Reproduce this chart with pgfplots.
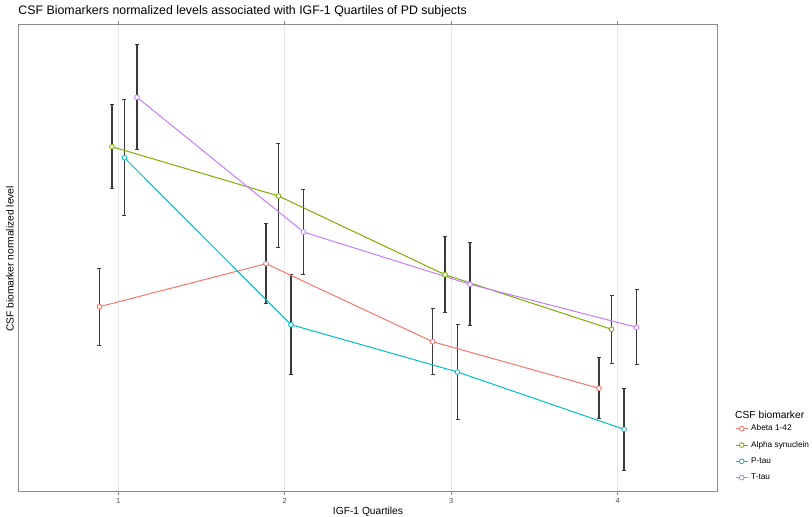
\documentclass[border=0pt]{standalone}
\usepackage{pgfplots}
\usepackage{pgfplotstable}
\pgfplotsset{compat=1.18}
\usepackage{fontspec}
\setmainfont{Liberation Sans}
\definecolor{cA}{HTML}{F8766D}
\definecolor{cB}{HTML}{7CAE00}
\definecolor{cC}{HTML}{00BFC4}
\definecolor{cD}{HTML}{C77CFF}
\definecolor{ebar}{HTML}{3A3A3A}

\pgfplotstableread{
x y e
0.8875 185.0 38.65
1.8875 228.0 40.0
2.8875 150.0 32.8
3.8875 103.4 30.65
}\abeta
\pgfplotstableread{
x y e
0.9625 345.0 41.8
1.9625 295.7 52.0
2.9625 217.0 37.8
3.9625 162.4 33.8
}\alpha
\pgfplotstableread{
x y e
1.0375 334.0 57.85
2.0375 167.0 49.85
3.0375 119.7 47.5
4.0375 62.4 41.0
}\ptau
\pgfplotstableread{
x y e
1.1125 394.4 52.5
2.1125 259.7 42.5
3.1125 207.4 41.65
4.1125 164.4 37.5
}\ttau

\begin{document}
\begin{tikzpicture}
\useasboundingbox (0,0) rectangle (812bp,517bp);
\begin{axis}[
  at={(18.3bp,25.3bp)}, anchor=south west,
  width=699.4bp, height=467.7bp, scale only axis,
  xmin=0.4, xmax=4.6, ymin=0, ymax=467.7,
  xtick={1,2,3,4}, ytick=\empty,
  /pgf/number format/assume math mode=true,
  axis line style={draw=black!45, line width=0.8bp},
  xmajorgrids, grid style={color=black!9, line width=0.9bp},
  tick align=outside, major tick length=3bp,
  tick style={black!45, line width=0.6bp},
  xticklabel style={font=\fontsize{7.5}{8}\selectfont, text=black!70},
  clip=false,
  legend cell align=left,
  legend style={at={(axis description cs:1.0247,0.0824)}, anchor=west,
    draw=none, fill=none, inner sep=0pt, row sep=8.3bp,
    font=\fontsize{8.3}{9}\selectfont,
    nodes={inner sep=0pt, text height=6bp, text depth=2bp},
    /tikz/every odd column/.append style={column sep=3bp}},
  legend image code/.code={
    \draw[mark repeat=2,mark phase=2,#1] plot coordinates {(0bp,0bp) (6bp,0bp) (12bp,0bp)};
  },
  ebars/.style={forget plot, only marks, mark=none,
    error bars/.cd, y dir=both, y explicit,
    error bar style={ebar, line width=1.7bp},
    error mark options={ebar, line width=1bp, mark size=2bp, rotate=90}},
  ser/.style={line width=1bp, mark=*, mark size=2.4bp,
    mark options={fill=white, line width=0.8bp, solid}},
]
\addplot[ebars] table[x=x, y=y, y error=e] {\abeta};
\addplot[ebars] table[x=x, y=y, y error=e] {\alpha};
\addplot[ebars] table[x=x, y=y, y error=e] {\ptau};
\addplot[ebars] table[x=x, y=y, y error=e] {\ttau};
\addplot[ser, cA] table[x=x, y=y] {\abeta};
\addlegendentry{Abeta 1-42}
\addplot[ser, cB] table[x=x, y=y] {\alpha};
\addlegendentry{Alpha synuclein}
\addplot[ser, cC] table[x=x, y=y] {\ptau};
\addlegendentry{P-tau}
\addplot[ser, cD] table[x=x, y=y] {\ttau};
\addlegendentry{T-tau}
\end{axis}
\node[anchor=base west, font=\fontsize{12.4}{14}\selectfont, inner sep=0pt] at (18.3bp,502bp)
  {CSF Biomarkers normalized levels associated with IGF-1 Quartiles of PD subjects};
\node[anchor=base, font=\fontsize{10.3}{12}\selectfont, inner sep=0pt] at (368bp,2.5bp) {IGF-1 Quartiles};
\node[anchor=base, rotate=90, font=\fontsize{10.3}{12}\selectfont, inner sep=0pt] at (13.5bp,258bp) {CSF biomarker normalized level};
\node[anchor=base west, font=\fontsize{10.3}{12}\selectfont, inner sep=0pt] at (735bp,98bp) {CSF biomarker};
\end{tikzpicture}
\end{document}
